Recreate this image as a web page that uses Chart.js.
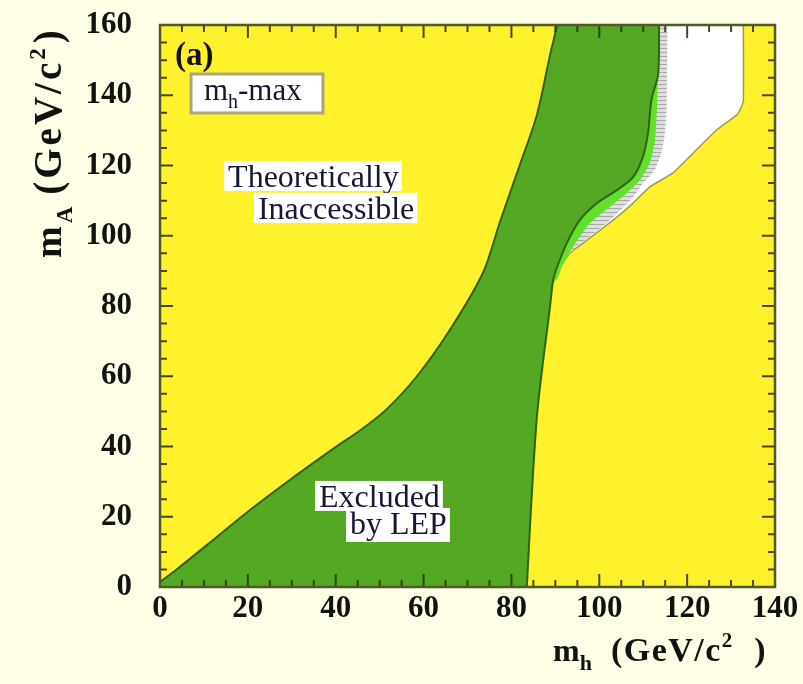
<!DOCTYPE html>
<html>
<head>
<meta charset="utf-8">
<title>LEP exclusion, mh-max scenario</title>
<script src="https://cdn.jsdelivr.net/npm/chart.js@4.4.1/dist/chart.umd.min.js"></script>
<style>
html,body{margin:0;padding:0;background:#FFFEE6;overflow:hidden;}
canvas{display:block;}
</style>
</head>
<body>
<canvas id="chart" width="803" height="684" style="width:803px;height:684px"></canvas>
<script>
// ---- axis ticks (GeV/c^2) ----
const mhTicks = [0, 20, 40, 60, 80, 100, 120, 140];
const mATicks = [0, 20, 40, 60, 80, 100, 120, 140, 160];
const minorStep = 5;

// ---- region boundaries, [mh, mA] in GeV/c^2 (end points run past the frame and are clipped) ----
// left edge of the LEP-excluded (dark green) region, bottom -> top
const excludedLeftEdge = [[-4, -3], [0, 1.4], [4, 5.2], [13, 14.3], [21, 22.4], [30, 30.9], [39.5, 39.4],
  [46, 45], [51.5, 50.5], [58.5, 60], [66, 73.2], [73.5, 89.4], [77.4, 104], [81.9, 120.1], [85.8, 134.4],
  [88.8, 151.5], [90.4, 160], [91.6, 168]];
// right edge of the LEP-excluded region, top -> bottom
const excludedRightEdge = [[113.6, 168], [113.6, 160], [113.4, 146], [112, 139.5], [111.6, 136], [111.1, 129.3], [109.9, 122.4],
  [107.7, 116.7], [104, 113], [99.5, 109.3], [95.6, 104.5], [92.6, 97.9], [90.4, 91.1], [89.5, 87.4],
  [88.8, 80], [85.8, 48.4], [83.5, 0], [83.4, -6]];
// outer edge of the light green band, top -> bottom
const lightGreenEdge = [[113.6, 168], [113.6, 160], [113.2, 138.6], [112.7, 127.3], [111.5, 120.7], [109.3, 115.9],
  [106.3, 112.2], [102.4, 108.2], [97.9, 103.6], [94, 96.8], [91.5, 91.1], [90.3, 87.5]];
// outer edge of the grey (hatched) band, top -> bottom
const greyBandEdge = [[115.5, 168], [115.5, 160], [115.3, 135], [114.8, 128], [114, 123], [112.5, 118.5], [110, 115],
  [108, 111.5], [105, 107.5], [101.5, 103.5], [97.5, 99.5], [94, 96], [91.5, 92], [90.5, 88.5]];
// outer edge of the allowed (white) region, top -> bottom
const allowedEdge = [[132.8, 168], [132.8, 160], [132.8, 138.6], [132.2, 136.3], [131.3, 134.4], [126.7, 130.1],
  [120, 121.8], [116.8, 117.9], [111.5, 113.9], [107.7, 109.3], [104, 105.3], [100.2, 101.6],
  [96.3, 97.9], [93.3, 95.1], [91.1, 91.1], [90.2, 88]];
// closing points that lie inside the excluded region
const innerClosure = [[88, 86], [95, 120], [100, 168]];

// ---- texts ----
const panelLabel = '(a)';
const scenarioText = ['m', 'h', '-max'];
const theoryTexts = ['Theoretically', 'Inaccessible'];
const lepTexts = ['Excluded', 'by LEP'];
const xTitleParts = ['m', 'h', '(GeV/c', '2', ')'];
const yTitleParts = ['m', 'A', '(GeV/c', '2', ')'];

// ---- styles ----
const SERIF = "'Liberation Serif', 'Times New Roman', serif";
const C = {
  paper: '#FFFEE6', yellow: '#FFF22C', green: '#55A823', greenEdge: '#2E6413',
  lightGreen: '#62E02A', white: '#FFFFFF', whiteEdge: '#A09B4A', frame: '#4F5A25',
  tick: 'rgba(45,55,15,0.9)', ink: '#111111', note: '#16163A'
};

function toXY(pts) { return pts.map(p => ({ x: p[0], y: p[1] })); }

function greyPattern() {
  const c = document.createElement('canvas');
  c.width = 4; c.height = 4;
  const g = c.getContext('2d');
  g.fillStyle = '#DEDEDE'; g.fillRect(0, 0, 4, 4);
  g.fillStyle = '#A8A8A8'; g.fillRect(0, 0, 4, 1);
  return g.createPattern(c, 'repeat');
}

function region(label, pts, bg, border, bw, tension) {
  return { label, data: toXY(pts), backgroundColor: bg, borderColor: border, borderWidth: bw,
    fill: 'shape', pointRadius: 0, pointHoverRadius: 0, tension: tension };
}

const datasets = [
  region('Excluded by LEP', excludedLeftEdge.concat(excludedRightEdge), C.green, C.greenEdge, 2, 0.3),
  region('light green band', lightGreenEdge.concat(innerClosure), C.lightGreen, C.lightGreen, 0, 0.2),
  region('grey band', greyBandEdge.concat(innerClosure), greyPattern(), '#BBBBBB', 0, 0.2),
  region('allowed', allowedEdge.concat(innerClosure), C.white, C.whiteEdge, 1.5, 0.15)
];

// draw a sequence of text runs along +x starting at 0, baseline at 0
function drawRuns(ctx, runs) {
  let x = 0;
  for (const r of runs) {
    if (r.gap) { x += r.gap; continue; }
    ctx.font = (r.weight || 'bold') + ' ' + r.size + 'px ' + SERIF;
    ctx.letterSpacing = (r.ls || 0) + 'px';
    ctx.fillText(r.t, x, r.dy || 0);
    x += ctx.measureText(r.t).width;
  }
  ctx.letterSpacing = '0px';
  return x;
}

function boxedText(ctx, text, x, y, size, padB) {
  ctx.font = size + 'px ' + SERIF;
  const w = ctx.measureText(text).width;
  ctx.fillStyle = '#FFFFFF';
  ctx.fillRect(x - 4, y - 26, w + 7, 26 + padB);
  ctx.fillStyle = C.note;
  ctx.fillText(text, x, y);
}

const overlay = {
  id: 'overlay',
  beforeDraw(chart) {
    const { ctx, chartArea: a } = chart;
    ctx.save();
    ctx.fillStyle = C.paper; ctx.fillRect(0, 0, chart.width, chart.height);
    ctx.fillStyle = C.yellow; ctx.fillRect(a.left, a.top, a.right - a.left, a.bottom - a.top);
    ctx.restore();
  },
  afterDatasetsDraw(chart) {
    const { ctx, chartArea: a } = chart;
    const xs = chart.scales.x, ys = chart.scales.y;
    const px = v => xs.getPixelForValue(v), py = v => ys.getPixelForValue(v);
    ctx.save();
    // inward tick marks on all four sides
    ctx.strokeStyle = C.tick; ctx.lineWidth = 2;
    ctx.beginPath();
    for (let v = xs.min; v <= xs.max + 1e-6; v += minorStep) {
      const p = px(v), len = mhTicks.includes(v) ? 13 : 7;
      ctx.moveTo(p, a.bottom); ctx.lineTo(p, a.bottom - len);
      ctx.moveTo(p, a.top); ctx.lineTo(p, a.top + len);
    }
    for (let v = ys.min; v <= ys.max + 1e-6; v += minorStep) {
      const p = py(v), len = mATicks.includes(v) ? 13 : 7;
      ctx.moveTo(a.left, p); ctx.lineTo(a.left + len, p);
      ctx.moveTo(a.right, p); ctx.lineTo(a.right - len, p);
    }
    ctx.stroke();
    // frame
    ctx.strokeStyle = C.frame; ctx.lineWidth = 2.5;
    ctx.strokeRect(a.left, a.top, a.right - a.left, a.bottom - a.top);

    ctx.textBaseline = 'alphabetic'; ctx.textAlign = 'left';
    // panel label
    ctx.fillStyle = C.ink;
    ctx.font = 'bold 33px ' + SERIF;
    ctx.fillText(panelLabel, px(3.4), py(148.6));
    // scenario box
    const bx0 = px(7.06), by0 = py(146.05), bx1 = px(37.1), by1 = py(134.95);
    ctx.fillStyle = '#FFFFFF'; ctx.fillRect(bx0, by0, bx1 - bx0, by1 - by0);
    ctx.strokeStyle = '#A9A57C'; ctx.lineWidth = 3; ctx.strokeRect(bx0, by0, bx1 - bx0, by1 - by0);
    ctx.fillStyle = C.note;
    ctx.save();
    ctx.translate(px(10), py(138.65));
    drawRuns(ctx, [
      { t: scenarioText[0], size: 31, weight: 'normal' },
      { t: scenarioText[1], size: 20, weight: 'normal', dy: 8 },
      { t: scenarioText[2], size: 31, weight: 'normal' }
    ]);
    ctx.restore();
    // region labels
    boxedText(ctx, theoryTexts[0], px(15.5), py(113.9), 32, 4);
    boxedText(ctx, theoryTexts[1], px(22.3), py(104.8), 32, 4);
    boxedText(ctx, lepTexts[0], px(36.2), py(22.8), 32, 4);
    boxedText(ctx, lepTexts[1], px(43.25), py(15.1), 32, 8);
    ctx.restore();
  },
  afterDraw(chart) {
    const { ctx, chartArea: a } = chart;
    ctx.save();
    ctx.fillStyle = C.ink; ctx.textBaseline = 'alphabetic'; ctx.textAlign = 'left';
    // x axis title, bottom right
    ctx.save();
    ctx.translate(a.right - 222, a.bottom + 74);
    drawRuns(ctx, [
      { t: xTitleParts[0], size: 32 },
      { t: xTitleParts[1], size: 22, dy: 9 },
      { gap: 19 },
      { t: xTitleParts[2], size: 34, ls: 1.5 },
      { t: xTitleParts[3], size: 21, dy: -14 },
      { gap: 22 },
      { t: xTitleParts[4], size: 34 }
    ]);
    ctx.restore();
    // y axis title, rotated, top aligned
    ctx.save();
    ctx.translate(61, a.top + 233);
    ctx.rotate(-Math.PI / 2);
    drawRuns(ctx, [
      { t: yTitleParts[0], size: 38 },
      { gap: 3 },
      { t: yTitleParts[1], size: 23, dy: 11 },
      { gap: 12 },
      { t: yTitleParts[2], size: 39, ls: 3 },
      { t: yTitleParts[3], size: 23, dy: -16 },
      { gap: 5 },
      { t: yTitleParts[4], size: 39 }
    ]);
    ctx.restore();
    ctx.restore();
  }
};

const tickFont = { family: SERIF, size: 31, weight: 'bold' };

new Chart(document.getElementById('chart'), {
  type: 'line',
  data: { datasets },
  options: {
    responsive: false,
    animation: false,
    devicePixelRatio: 1,
    events: [],
    layout: { padding: { top: 25, right: 28, left: 0, bottom: 0 } },
    plugins: { legend: { display: false }, tooltip: { enabled: false }, title: { display: false } },
    elements: { line: { borderJoinStyle: 'round' } },
    scales: {
      x: {
        type: 'linear', min: 0, max: 140,
        afterBuildTicks: s => { s.ticks = mhTicks.map(v => ({ value: v })); },
        ticks: { font: tickFont, color: C.ink, padding: 3, maxRotation: 0, autoSkip: false },
        grid: { display: false, drawTicks: false },
        border: { display: false },
        afterFit: s => { s.height = 97; s.paddingLeft = 0; s.paddingRight = 0; }
      },
      y: {
        type: 'linear', min: 0, max: 160,
        afterBuildTicks: s => { s.ticks = mATicks.map(v => ({ value: v })); },
        ticks: { font: tickFont, color: C.ink, padding: 28, autoSkip: false },
        grid: { display: false, drawTicks: false },
        border: { display: false },
        afterFit: s => { s.width = 160; s.paddingTop = 0; s.paddingBottom = 0; }
      }
    }
  },
  plugins: [overlay]
});
</script>
</body>
</html>
